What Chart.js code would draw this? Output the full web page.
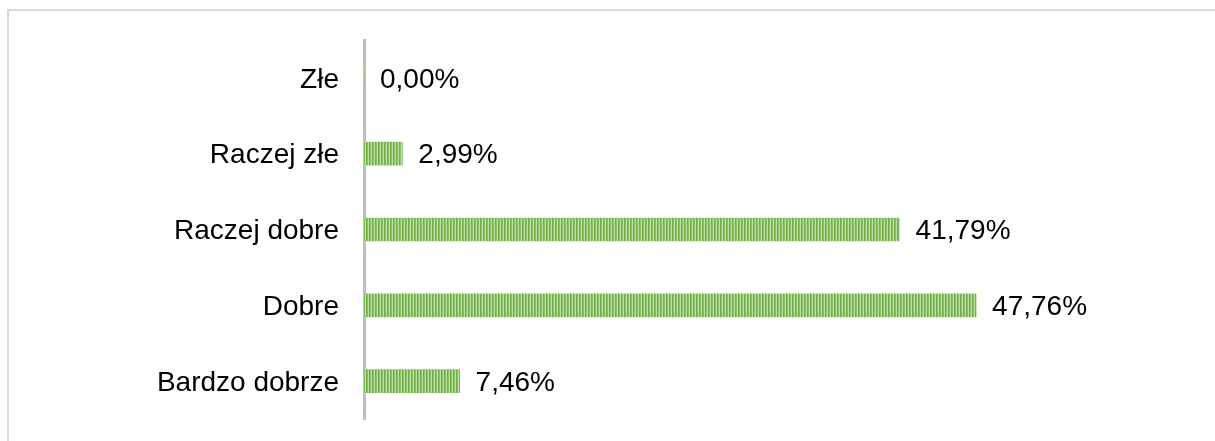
<!DOCTYPE html>
<html>

<head>
  <meta charset="utf-8">
  <title>Ocena</title>
  <style>
    html, body { margin: 0; padding: 0; background: #fff; width: 1215px; height: 441px; overflow: hidden; }
    .ramka { position: absolute; left: 7px; top: 9px; right: 0; bottom: 0; border-top: 2px solid #d9d9d9; border-left: 2px solid #d9d9d9; }
    .wykres { position: absolute; left: 0; top: 0; width: 1215px; height: 441px; }
  </style>
</head>

<body>
  <div class="ramka"></div>
  <div class="wykres">
    <canvas id="mychart"></canvas>
  </div>

  <script src="https://cdn.jsdelivr.net/npm/chart.js"></script>

  <script>
    // dane
    const kategorie = ['Złe', 'Raczej złe', 'Raczej dobre', 'Dobre', 'Bardzo dobrze'];
    const wartosci = [0, 2.99, 41.79, 47.76, 7.46];

    const czcionka = "'Liberation Sans', Arial, sans-serif";

    // paski w pionowe prążki
    function wzorPaskow(ctx) {
      const c = document.createElement('canvas');
      c.width = 3;
      c.height = 1;
      const g = c.getContext('2d');
      g.fillStyle = '#70ad47';
      g.fillRect(0, 0, 1, 1);
      g.fillStyle = '#8cc168';
      g.fillRect(1, 0, 1, 1);
      g.fillStyle = '#bfdfa8';
      g.fillRect(2, 0, 1, 1);
      return ctx.createPattern(c, 'repeat');
    }

    // etykiety z wartościami za paskiem
    const etykiety = {
      id: 'etykiety',
      afterDatasetsDraw(chart) {
        const ctx = chart.ctx;
        const meta = chart.getDatasetMeta(0);
        ctx.save();
        ctx.font = '28px ' + czcionka;
        ctx.fillStyle = '#000';
        ctx.textAlign = 'left';
        ctx.textBaseline = 'middle';
        meta.data.forEach((bar, i) => {
          const txt = wartosci[i].toFixed(2).replace('.', ',') + '%';
          ctx.fillText(txt, bar.x + 16, bar.y + 2);
        });
        ctx.restore();
      }
    };

    const ctx = document.getElementById('mychart').getContext('2d');

    new Chart(ctx, {
      type: 'bar',
      data: {
        labels: kategorie,
        datasets: [{
          data: wartosci,
          backgroundColor: wzorPaskow(ctx),
          borderWidth: 0,
          barThickness: 23,
        }],
      },
      options: {
        indexAxis: 'y',
        responsive: true,
        maintainAspectRatio: false,
        animation: false,
        layout: {
          padding: { top: 40, bottom: 22, left: 0, right: 82 }
        },
        plugins: {
          legend: { display: false },
          tooltip: { enabled: false },
        },
        scales: {
          x: {
            display: false,
            min: 0,
            max: 60,
          },
          y: {
            afterFit(scale) {
              scale.width = 364;
              // bez dodatkowego marginesu od etykiet
              scale.paddingTop = 0;
              scale.paddingBottom = 0;
            },
            grid: { display: false },
            border: { display: true, color: '#bfbfbf', width: 3 },
            ticks: {
              color: '#000',
              padding: 17,
              labelOffset: 2,
              font: { family: czcionka, size: 28 },
            },
          },
        },
      },
      plugins: [etykiety],
    });
  </script>
</body>

</html>
